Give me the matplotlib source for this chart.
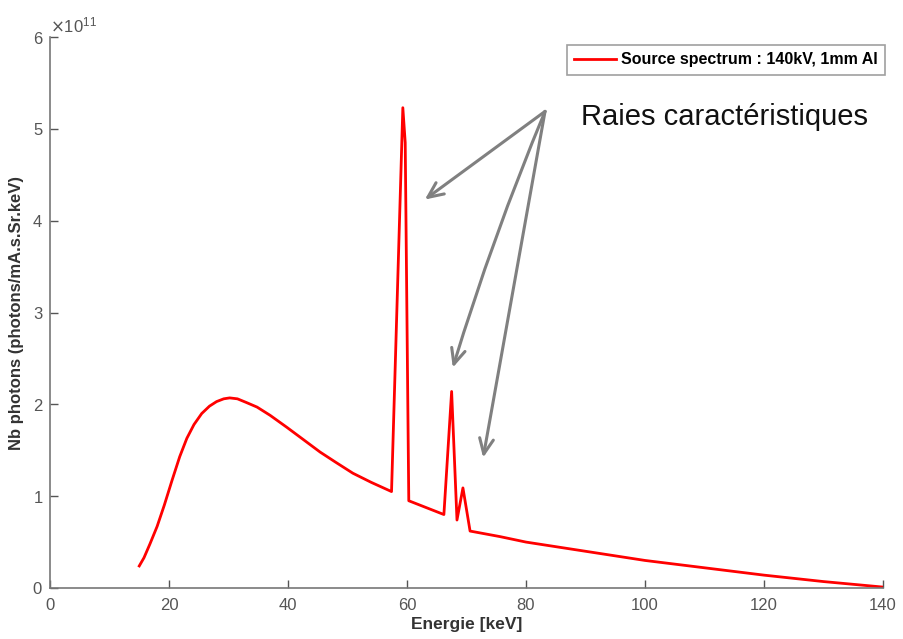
import matplotlib
matplotlib.use("Agg")
import matplotlib.pyplot as plt
from matplotlib.ticker import ScalarFormatter

plt.rcParams['font.family'] = ['Liberation Sans', 'DejaVu Sans']

energy = [15.0, 15.8, 16.8, 18.0, 19.2, 20.5, 21.8, 23.0, 24.2, 25.5, 26.8, 28.0,
          29.2, 30.2, 31.5, 33.0, 34.8, 37.0, 39.8, 42.5, 45.4, 48.0, 50.9, 54.0, 57.4,
          59.3, 59.7, 60.3,
          66.2, 67.5, 68.4, 69.4, 70.6,
          75.6, 80.0, 90.0, 100.0, 110.0, 120.0, 130.0, 140.0]
photons = [0.24, 0.33, 0.48, 0.67, 0.90, 1.17, 1.43, 1.63, 1.78, 1.90, 1.98, 2.03,
           2.06, 2.07, 2.06, 2.02, 1.97, 1.88, 1.75, 1.62, 1.48, 1.37, 1.25, 1.15, 1.05,
           5.23, 4.85, 0.95,
           0.80, 2.14, 0.74, 1.09, 0.62,
           0.56, 0.50, 0.40, 0.30, 0.22, 0.14, 0.07, 0.01]
photons = [p * 1e11 for p in photons]

legend_label = "Source spectrum : 140kV, 1mm Al"
annot_text = "Raies caractéristiques"
arrow_tail = (83.2, 5.19e11)
arrow_heads = [(63.0, 4.23e11), (67.7, 2.40e11), (72.8, 1.42e11)]
arrow_rads = [0.0, 0.025, 0.0]

fig = plt.figure(figsize=(9.04, 6.39), dpi=100)
ax = fig.add_axes([50/904, 1 - 588/639, 833/904, 551/639])

ax.plot(energy, photons, color='#ff0000', lw=2.0, label=legend_label)

ax.set_xlim(0, 140)
ax.set_ylim(0, 6e11)
ax.set_xticks(range(0, 141, 20))
ax.set_yticks([i * 1e11 for i in range(0, 7)])
fmt = ScalarFormatter(useMathText=True)
ax.yaxis.set_major_formatter(fmt)
ax.yaxis.get_offset_text().set_color('#555555')
ax.yaxis.get_offset_text().set_fontsize(12)

for s in ['top', 'right']:
    ax.spines[s].set_visible(False)
for s in ['left', 'bottom']:
    ax.spines[s].set_color('#777777')
    ax.spines[s].set_linewidth(1.2)
ax.tick_params(direction='in', length=6, colors='#555555', labelsize=12, width=1)
ax.tick_params(axis='x', pad=7)
ax.tick_params(axis='y', pad=5)

ax.set_xlabel("Energie [keV]", fontsize=12.5, fontweight='bold', color='#333333', labelpad=3)
ax.set_ylabel("Nb photons (photons/mA.s.Sr.keV)", fontsize=12, fontweight='bold',
              color='#333333', labelpad=6)

leg = ax.legend(loc='upper right', bbox_to_anchor=(1.002, 0.985), frameon=True, fancybox=False,
                prop={'weight': 'bold', 'size': 11.5}, handlelength=2.6, handletextpad=0.3,
                borderpad=0.45, borderaxespad=0.0)
leg.get_frame().set_edgecolor('#888888')
leg.get_frame().set_linewidth(1.2)

ax.text(0.637, 0.855, annot_text, transform=ax.transAxes, fontsize=21, color='#111111',
        ha='left', va='center')

for head, rad in zip(arrow_heads, arrow_rads):
    ax.annotate("", xy=head, xytext=arrow_tail,
                arrowprops=dict(arrowstyle='->,head_length=1.1,head_width=0.5',
                                color='#808080', lw=2.2,
                                connectionstyle=f'arc3,rad={rad}',
                                shrinkA=0, shrinkB=0))

fig.savefig("out.png", dpi=100)
